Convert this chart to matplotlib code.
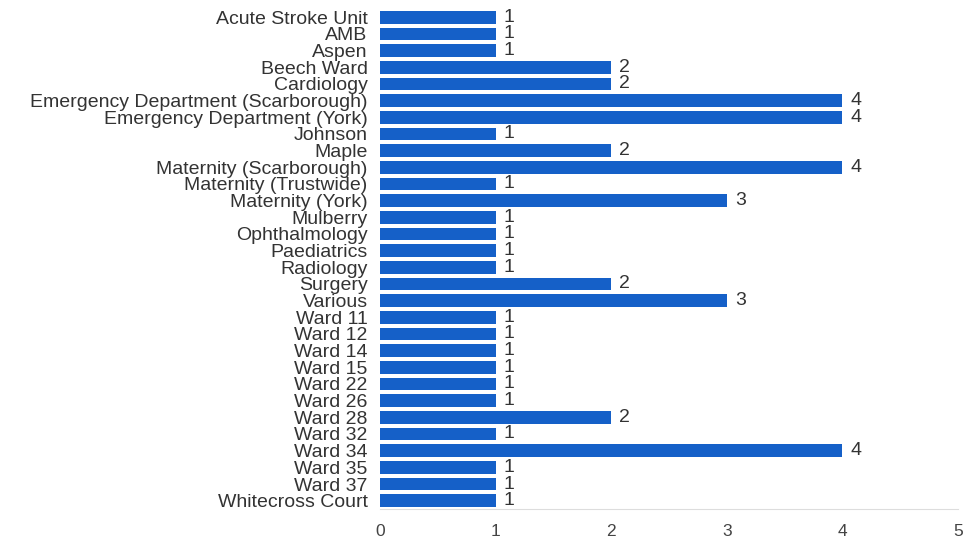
import matplotlib.pyplot as plt

categories = ["Acute Stroke Unit", "AMB", "Aspen", "Beech Ward", "Cardiology",
              "Emergency Department (Scarborough)", "Emergency Department (York)",
              "Johnson", "Maple", "Maternity (Scarborough)", "Maternity (Trustwide)",
              "Maternity (York)", "Mulberry", "Ophthalmology", "Paediatrics",
              "Radiology", "Surgery", "Various", "Ward 11", "Ward 12", "Ward 14",
              "Ward 15", "Ward 22", "Ward 26", "Ward 28", "Ward 32", "Ward 34",
              "Ward 35", "Ward 37", "Whitecross Court"]
counts = [1, 1, 1, 2, 2, 4, 4, 1, 2, 4, 1, 3, 1, 1, 1, 1, 2, 3,
          1, 1, 1, 1, 1, 1, 2, 1, 4, 1, 1, 1]
xticks = [0, 1, 2, 3, 4, 5]

plt.rcParams['font.family'] = ['Liberation Sans', 'DejaVu Sans']

fig = plt.figure(figsize=(9.8, 5.43), dpi=100)
ax = fig.add_axes([0.3878, 0.0626, 0.5898, 0.921])

ypos = list(range(len(categories)))
bars = ax.barh(ypos, counts, height=0.76, color='#1560c8')
for y, v in zip(ypos, counts):
    ax.text(v + 0.07, y, str(v), va='center', ha='left', fontsize=14, color='#333333')

ax.set_ylim(len(categories) - 0.5, -0.5)
ax.set_xlim(0, 5)
ax.set_yticks(ypos)
ax.set_yticklabels(categories, fontsize=14, color='#333333')
ax.set_xticks(xticks)
ax.set_xticklabels([str(t) for t in xticks], fontsize=12.5, color='#444444')
ax.tick_params(axis='both', length=0)
ax.tick_params(axis='y', pad=9)
ax.tick_params(axis='x', pad=11)
for s in ['top', 'right', 'left']:
    ax.spines[s].set_visible(False)
ax.spines['bottom'].set_color('#dddddd')

fig.savefig('out.png', dpi=100)
